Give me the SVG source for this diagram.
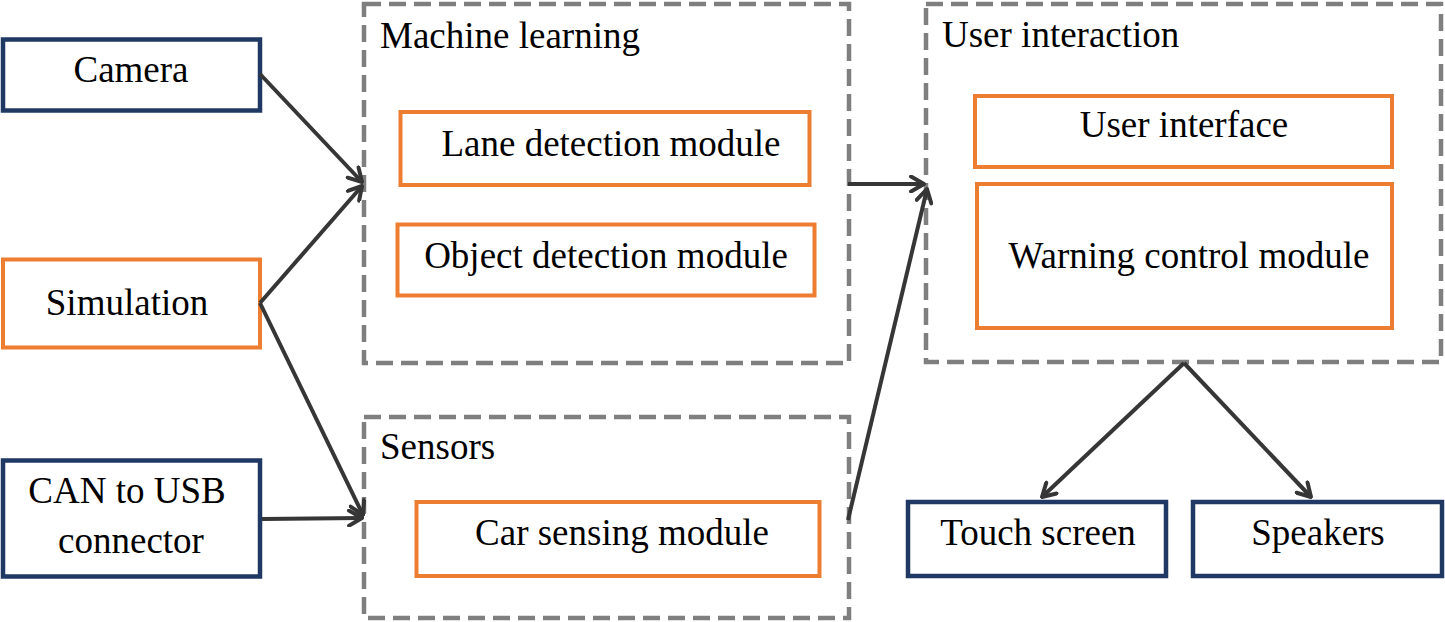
<svg xmlns="http://www.w3.org/2000/svg" width="1445" height="622" viewBox="0 0 1445 622">
<defs>
<style>
.lbl{font-family:"Liberation Serif","Times New Roman",serif;font-size:37px;fill:#000;}
.mid{text-anchor:middle;}
.navy{fill:#fff;stroke:#1f3864;stroke-width:4.5;}
.orange{fill:#fff;stroke:#ed7d31;stroke-width:4;}
.group{fill:none;stroke:#7f7f7f;stroke-width:4.5;stroke-dasharray:17 8;}
.conn{fill:none;stroke:#363636;stroke-width:4;marker-end:url(#arrow);}
</style>
<marker id="arrow" viewBox="0 0 18 18" refX="16" refY="9" markerWidth="18" markerHeight="18" markerUnits="userSpaceOnUse" orient="auto">
<path d="M3,1.5 L16,9 L3,16.5" fill="none" stroke="#363636" stroke-width="4" stroke-linecap="round" stroke-linejoin="round"/>
</marker>
</defs>
<rect width="1445" height="622" fill="#fff"/>

<g id="ml-group">
<rect class="group" x="364" y="4" width="485" height="359"/>
<text class="lbl" x="380" y="48">Machine learning</text>
</g>
<g id="lane-detection">
<rect class="orange" x="400.5" y="112" width="409" height="73"/>
<text class="lbl mid" x="611" y="156">Lane detection module</text>
</g>
<g id="object-detection">
<rect class="orange" x="397.5" y="224.5" width="417" height="71"/>
<text class="lbl mid" x="606" y="268">Object detection module</text>
</g>

<g id="sensors-group">
<rect class="group" x="364" y="417" width="485" height="201"/>
<text class="lbl" x="380" y="459">Sensors</text>
</g>
<g id="car-sensing">
<rect class="orange" x="416.5" y="502" width="403" height="74"/>
<text class="lbl mid" x="622" y="545">Car sensing module</text>
</g>

<g id="ui-group">
<rect class="group" x="926" y="4" width="515" height="358"/>
<text class="lbl" x="942" y="47">User interaction</text>
</g>
<g id="user-interface">
<rect class="orange" x="975" y="96" width="417" height="71"/>
<text class="lbl mid" x="1184" y="137">User interface</text>
</g>
<g id="warning-control">
<rect class="orange" x="977" y="184" width="415" height="144"/>
<text class="lbl mid" x="1189" y="268">Warning control module</text>
</g>

<g id="camera">
<rect class="navy" x="3" y="39.5" width="257" height="71"/>
<text class="lbl mid" x="131" y="82">Camera</text>
</g>
<g id="simulation">
<rect class="orange" x="3" y="259.5" width="257" height="88"/>
<text class="lbl mid" x="127" y="315">Simulation</text>
</g>
<g id="can-usb">
<rect class="navy" x="3" y="460.5" width="257" height="116"/>
<text class="lbl mid" x="127" y="503">CAN to USB</text>
<text class="lbl mid" x="131" y="553">connector</text>
</g>
<g id="touch-screen">
<rect class="navy" x="908" y="502" width="258" height="74"/>
<text class="lbl mid" x="1038" y="545">Touch screen</text>
</g>
<g id="speakers">
<rect class="navy" x="1193" y="502" width="249" height="74"/>
<text class="lbl mid" x="1318" y="545">Speakers</text>
</g>

<g id="connectors">
<path class="conn" d="M260,74 L362,182"/>
<path class="conn" d="M260,303 L362,186"/>
<path class="conn" d="M260,303 L363,515"/>
<path class="conn" d="M262,519 L362,518"/>
<path class="conn" d="M848,184 L924,184"/>
<path class="conn" d="M848,520 L927,189"/>
<path class="conn" d="M1184,363 L1042,497"/>
<path class="conn" d="M1184,363 L1311,497"/>
</g>
</svg>
